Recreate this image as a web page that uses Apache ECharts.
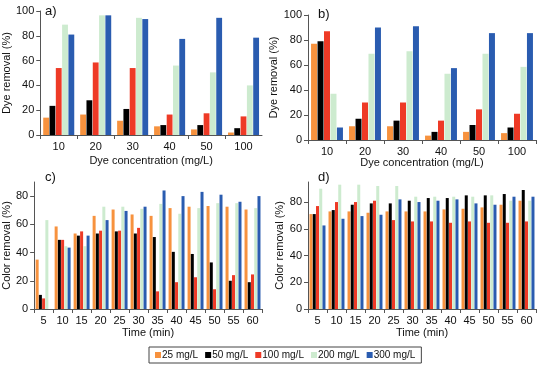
<!DOCTYPE html>
<html>
<head>
<meta charset="utf-8">
<script src="https://cdn.jsdelivr.net/npm/echarts@6/dist/echarts.min.js"></script>
<style>
  html, body { margin: 0; padding: 0; background: #fff; }
  #chart { width: 537px; height: 367px; }
</style>
</head>
<body>
<div id="chart"></div>
<script>
const concCats = ['10', '20', '30', '40', '50', '100']
const timeCats = ['5', '10', '15', '20', '25', '30', '35', '40', '45', '50', '55', '60']
const seriesNames = ['25 mg/L', '50 mg/L', '100 mg/L', '200 mg/L', '300 mg/L']
const colors = ['#F7923E', '#000000', '#EE3A26', '#CDEBCF', '#2A5CB0']

// panel a) dye removal vs dye concentration
const a25 = [14, 16.5, 11.5, 7, 4.5, 2]
const a50 = [23.5, 28, 21, 8, 8, 5.5]
const a100 = [54, 58.5, 54, 16.5, 17.5, 15]
const a200 = [89, 96.5, 94.5, 56, 50.5, 40]
const a300 = [81, 96.5, 93.5, 77.5, 94.5, 78.5]

// panel b)
const b25 = [77, 11, 11, 3.5, 6.5, 5.5]
const b50 = [79, 17, 15.5, 6.5, 12, 10]
const b100 = [87, 30, 30, 15.5, 24.5, 21]
const b200 = [37, 69, 71, 53, 69, 58.5]
const b300 = [10, 90, 91, 57.5, 85.5, 85.5]

// panel c) color removal vs time
const c25 = [35, 58.5, 53.5, 66, 70.5, 67, 66, 71.5, 72.5, 73, 72.5, 70.5]
const c50 = [10, 49, 52, 53.5, 55, 53.5, 51, 40.5, 39, 33, 20, 19]
const c100 = [7.5, 49, 55, 55.5, 55.5, 57.5, 12.5, 19, 22.5, 14, 24, 24.5]
const c200 = [63, 44.5, 44.5, 72.5, 72.5, 71, 74.5, 67.5, 71.5, 75, 75, 71.5]
const c300 = [0, 43.5, 52, 63, 69.5, 72.5, 84, 80, 83, 81, 76, 80]

// panel d)
const d25 = [71, 73, 73, 72, 73, 73, 73, 74.5, 75, 76, 78, 81]
const d50 = [71, 74, 78, 79, 79, 81, 83, 83, 85, 85, 86, 89]
const d100 = [77, 80, 80, 81, 66.5, 65.5, 65.5, 64.5, 65.5, 64.5, 64.5, 65.5]
const d200 = [90, 93, 93, 92, 92, 84, 84, 84, 84, 85, 81, 81]
const d300 = [62.5, 67.5, 69.5, 70.5, 82, 80, 81, 82, 79, 78, 84, 84]

const panels = [
  { data: [a25, a50, a100, a200, a300], cats: concCats, max: 100, yName: 'Dye removal (%)', xName: 'Dye concentration (mg/L)', gap: 20, grid: { left: 32, right: 275, top: 11, bottom: 232 } },
  { data: [b25, b50, b100, b200, b300], cats: concCats, max: 100, yName: 'Dye removal (%)', xName: 'Dye concentration (mg/L)', gap: 17, grid: { left: 308, right: 1, top: 15, bottom: 227 } },
  { data: [c25, c50, c100, c200, c300], cats: timeCats, max: 90, yName: 'Color removal (%)', xName: 'Time (min)', gap: 18, grid: { left: 32, right: 275, top: 182, bottom: 58 } },
  { data: [d25, d50, d100, d200, d300], cats: timeCats, max: 95, yName: 'Color removal (%)', xName: 'Time (min)', gap: 18, grid: { left: 308, right: 1, top: 182, bottom: 58 } }
]

const font = 'Liberation Sans, Arial, sans-serif'
const axisColor = '#555'

const chart = echarts.init(document.getElementById('chart'), null, { renderer: 'canvas' })

const option = {
  animation: false,
  backgroundColor: '#fff',
  textStyle: { fontFamily: font },
  title: [
    { text: 'a)', left: 40, top: 0 },
    { text: 'b)', left: 313, top: 3 },
    { text: 'c)', left: 40, top: 166 },
    { text: 'd)', left: 313, top: 166 }
  ].map(t => ({ ...t, textStyle: { fontSize: 13, fontWeight: 'normal', color: '#111', fontFamily: font } })),
  legend: {
    data: seriesNames,
    left: 149,
    top: 347,
    padding: [3, 6, 3, 6],
    borderColor: '#444',
    borderWidth: 1,
    itemWidth: 6,
    itemHeight: 6,
    itemGap: 7,
    icon: 'rect',
    textStyle: { fontSize: 10, color: '#111', fontFamily: font, padding: [0, 0, 0, -4] }
  },
  grid: panels.map(p => p.grid),
  xAxis: panels.map((p, i) => ({
    type: 'category',
    gridIndex: i,
    data: p.cats,
    name: p.xName,
    nameLocation: 'middle',
    nameGap: p.gap,
    nameTextStyle: { fontSize: 11, color: '#111', fontFamily: font },
    axisLine: { lineStyle: { color: axisColor } },
    axisTick: { show: true, length: 4, lineStyle: { color: axisColor } },
    axisLabel: { fontSize: 11, color: '#111', margin: 6, interval: 0, fontFamily: font }
  })),
  yAxis: panels.map((p, i) => ({
    type: 'value',
    gridIndex: i,
    min: 0,
    max: p.max,
    interval: 20,
    name: p.yName,
    nameLocation: 'middle',
    nameGap: 21,
    nameTextStyle: { fontSize: 11, color: '#111', fontFamily: font },
    axisLine: { show: true, lineStyle: { color: axisColor } },
    axisTick: { show: true, length: 4, lineStyle: { color: axisColor } },
    axisLabel: { fontSize: 11, color: '#111', margin: 6, showMaxLabel: p.max === 100, fontFamily: font },
    splitLine: { show: false }
  })),
  series: []
}

panels.forEach((p, i) => {
  p.data.forEach((vals, k) => {
    option.series.push({
      name: seriesNames[k],
      type: 'bar',
      xAxisIndex: i,
      yAxisIndex: i,
      data: vals,
      barGap: '8%',
      barCategoryGap: '16%',
      itemStyle: { color: colors[k] }
    })
  })
})

chart.setOption(option)
</script>
</body>
</html>
